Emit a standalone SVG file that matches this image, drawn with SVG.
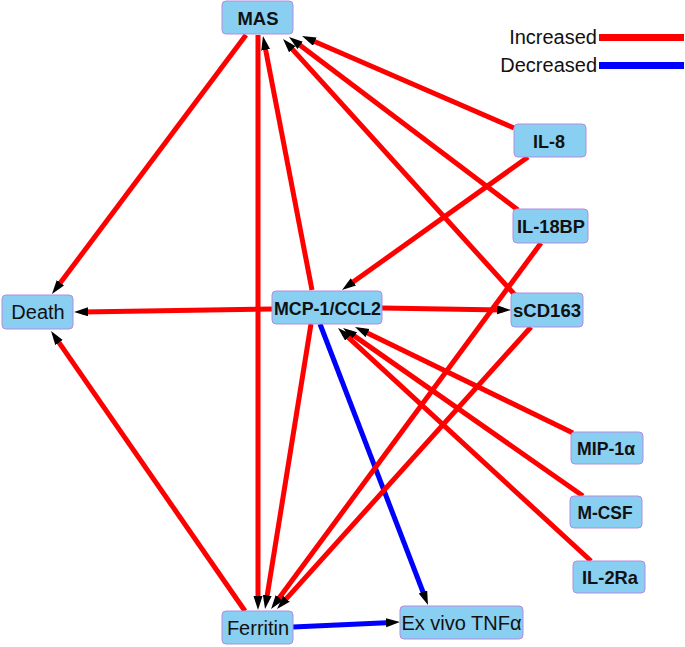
<svg xmlns="http://www.w3.org/2000/svg" width="685" height="647" viewBox="0 0 685 647">
<style>
.bg{fill:#ffffff}
.node rect{fill:#88CFF1;stroke:#B58BE0;stroke-width:1}
.node text{font-family:"Liberation Sans",Arial,sans-serif;fill:#111;text-anchor:middle;dominant-baseline:central}
.b{font-weight:bold;font-size:19px}
.r{font-size:20px}
.up{stroke:#FF0000;stroke-width:5;fill:none}
.down{stroke:#0000FF;stroke-width:5;fill:none}
.lg{font-family:"Liberation Sans",Arial,sans-serif;font-size:20px;fill:#111;text-anchor:end}
</style>
<defs>
<marker id="ah" markerUnits="userSpaceOnUse" markerWidth="14" markerHeight="10" refX="6" refY="4.5" orient="auto">
<path d="M0,0 L14,4.5 L0,9 z" fill="#000"/>
</marker>
</defs>
<rect class="bg" x="0" y="0" width="685" height="647"/>
<g id="legend">
<text class="lg" x="597" y="44">Increased</text>
<line x1="599" y1="37.5" x2="684" y2="37.5" stroke="#FF0000" stroke-width="7"/>
<text class="lg" x="597" y="72">Decreased</text>
<line x1="599" y1="65.5" x2="684" y2="65.5" stroke="#0000FF" stroke-width="7"/>
</g>
<g id="connectors">
<line class="up" x1="246" y1="35" x2="56.8" y2="287.6" marker-end="url(#ah)"/>
<line class="up" x1="258" y1="35" x2="258" y2="602" marker-end="url(#ah)"/>
<line class="up" x1="312" y1="290" x2="264.5" y2="43.9" marker-end="url(#ah)"/>
<line class="up" x1="514" y1="128" x2="309.3" y2="39.2" marker-end="url(#ah)"/>
<line class="up" x1="518" y1="210" x2="295.4" y2="41.8" marker-end="url(#ah)"/>
<line class="up" x1="515" y1="295" x2="288.4" y2="44.9" marker-end="url(#ah)"/>
<line class="up" x1="528" y1="157" x2="348.5" y2="285.3" marker-end="url(#ah)"/>
<line class="up" x1="272" y1="309" x2="82" y2="311.9" marker-end="url(#ah)"/>
<line class="up" x1="382" y1="308" x2="503" y2="309.9" marker-end="url(#ah)"/>
<line class="down" x1="320" y1="324" x2="425.1" y2="597.5" marker-end="url(#ah)"/>
<line class="up" x1="311" y1="324" x2="266.3" y2="601.1" marker-end="url(#ah)"/>
<line class="up" x1="541" y1="243" x2="275.8" y2="602.6" marker-end="url(#ah)"/>
<line class="up" x1="531" y1="327" x2="282.4" y2="603.1" marker-end="url(#ah)"/>
<line class="up" x1="573" y1="433" x2="362.2" y2="330.5" marker-end="url(#ah)"/>
<line class="up" x1="583" y1="496" x2="349.6" y2="332.6" marker-end="url(#ah)"/>
<line class="up" x1="591" y1="561" x2="343.9" y2="333.4" marker-end="url(#ah)"/>
<line class="up" x1="245" y1="611" x2="55.6" y2="337.6" marker-end="url(#ah)"/>
<line class="down" x1="293" y1="627" x2="392" y2="622.4" marker-end="url(#ah)"/>
</g>
<g id="MAS" class="node"><rect x="222" y="1" width="71" height="33" rx="4"/><text class="b" x="258" y="18" textLength="41" lengthAdjust="spacingAndGlyphs">MAS</text></g>
<g id="Death" class="node"><rect x="2" y="295" width="71" height="34" rx="4"/><text class="r" x="38" y="312">Death</text></g>
<g id="MCP1" class="node"><rect x="272" y="291" width="110" height="33" rx="4"/><text class="b" x="327.5" y="308" textLength="107" lengthAdjust="spacingAndGlyphs">MCP-1/CCL2</text></g>
<g id="sCD163" class="node"><rect x="511" y="293" width="72" height="34" rx="4"/><text class="b" x="547" y="310" textLength="68" lengthAdjust="spacingAndGlyphs">sCD163</text></g>
<g id="IL8" class="node"><rect x="514" y="124" width="72" height="33" rx="4"/><text class="b" x="549" y="141" textLength="32" lengthAdjust="spacingAndGlyphs">IL-8</text></g>
<g id="IL18BP" class="node"><rect x="513" y="209" width="75" height="34" rx="4"/><text class="b" x="551" y="226" textLength="68" lengthAdjust="spacingAndGlyphs">IL-18BP</text></g>
<g id="MIP1a" class="node"><rect x="571" y="432" width="72" height="32" rx="4"/><text class="b" x="606" y="448" textLength="58" lengthAdjust="spacingAndGlyphs">MIP-1α</text></g>
<g id="MCSF" class="node"><rect x="570" y="496" width="72" height="32" rx="4"/><text class="b" x="605" y="512" textLength="55" lengthAdjust="spacingAndGlyphs">M-CSF</text></g>
<g id="IL2Ra" class="node"><rect x="573" y="561" width="72" height="32" rx="4"/><text class="b" x="610" y="577" textLength="56" lengthAdjust="spacingAndGlyphs">IL-2Ra</text></g>
<g id="Ferritin" class="node"><rect x="222" y="611" width="71" height="33" rx="4"/><text class="r" x="258" y="628">Ferritin</text></g>
<g id="ExVivoTNFa" class="node"><rect x="400" y="606" width="123" height="33" rx="4"/><text class="r" x="461.5" y="623">Ex vivo TNFα</text></g>
</svg>
